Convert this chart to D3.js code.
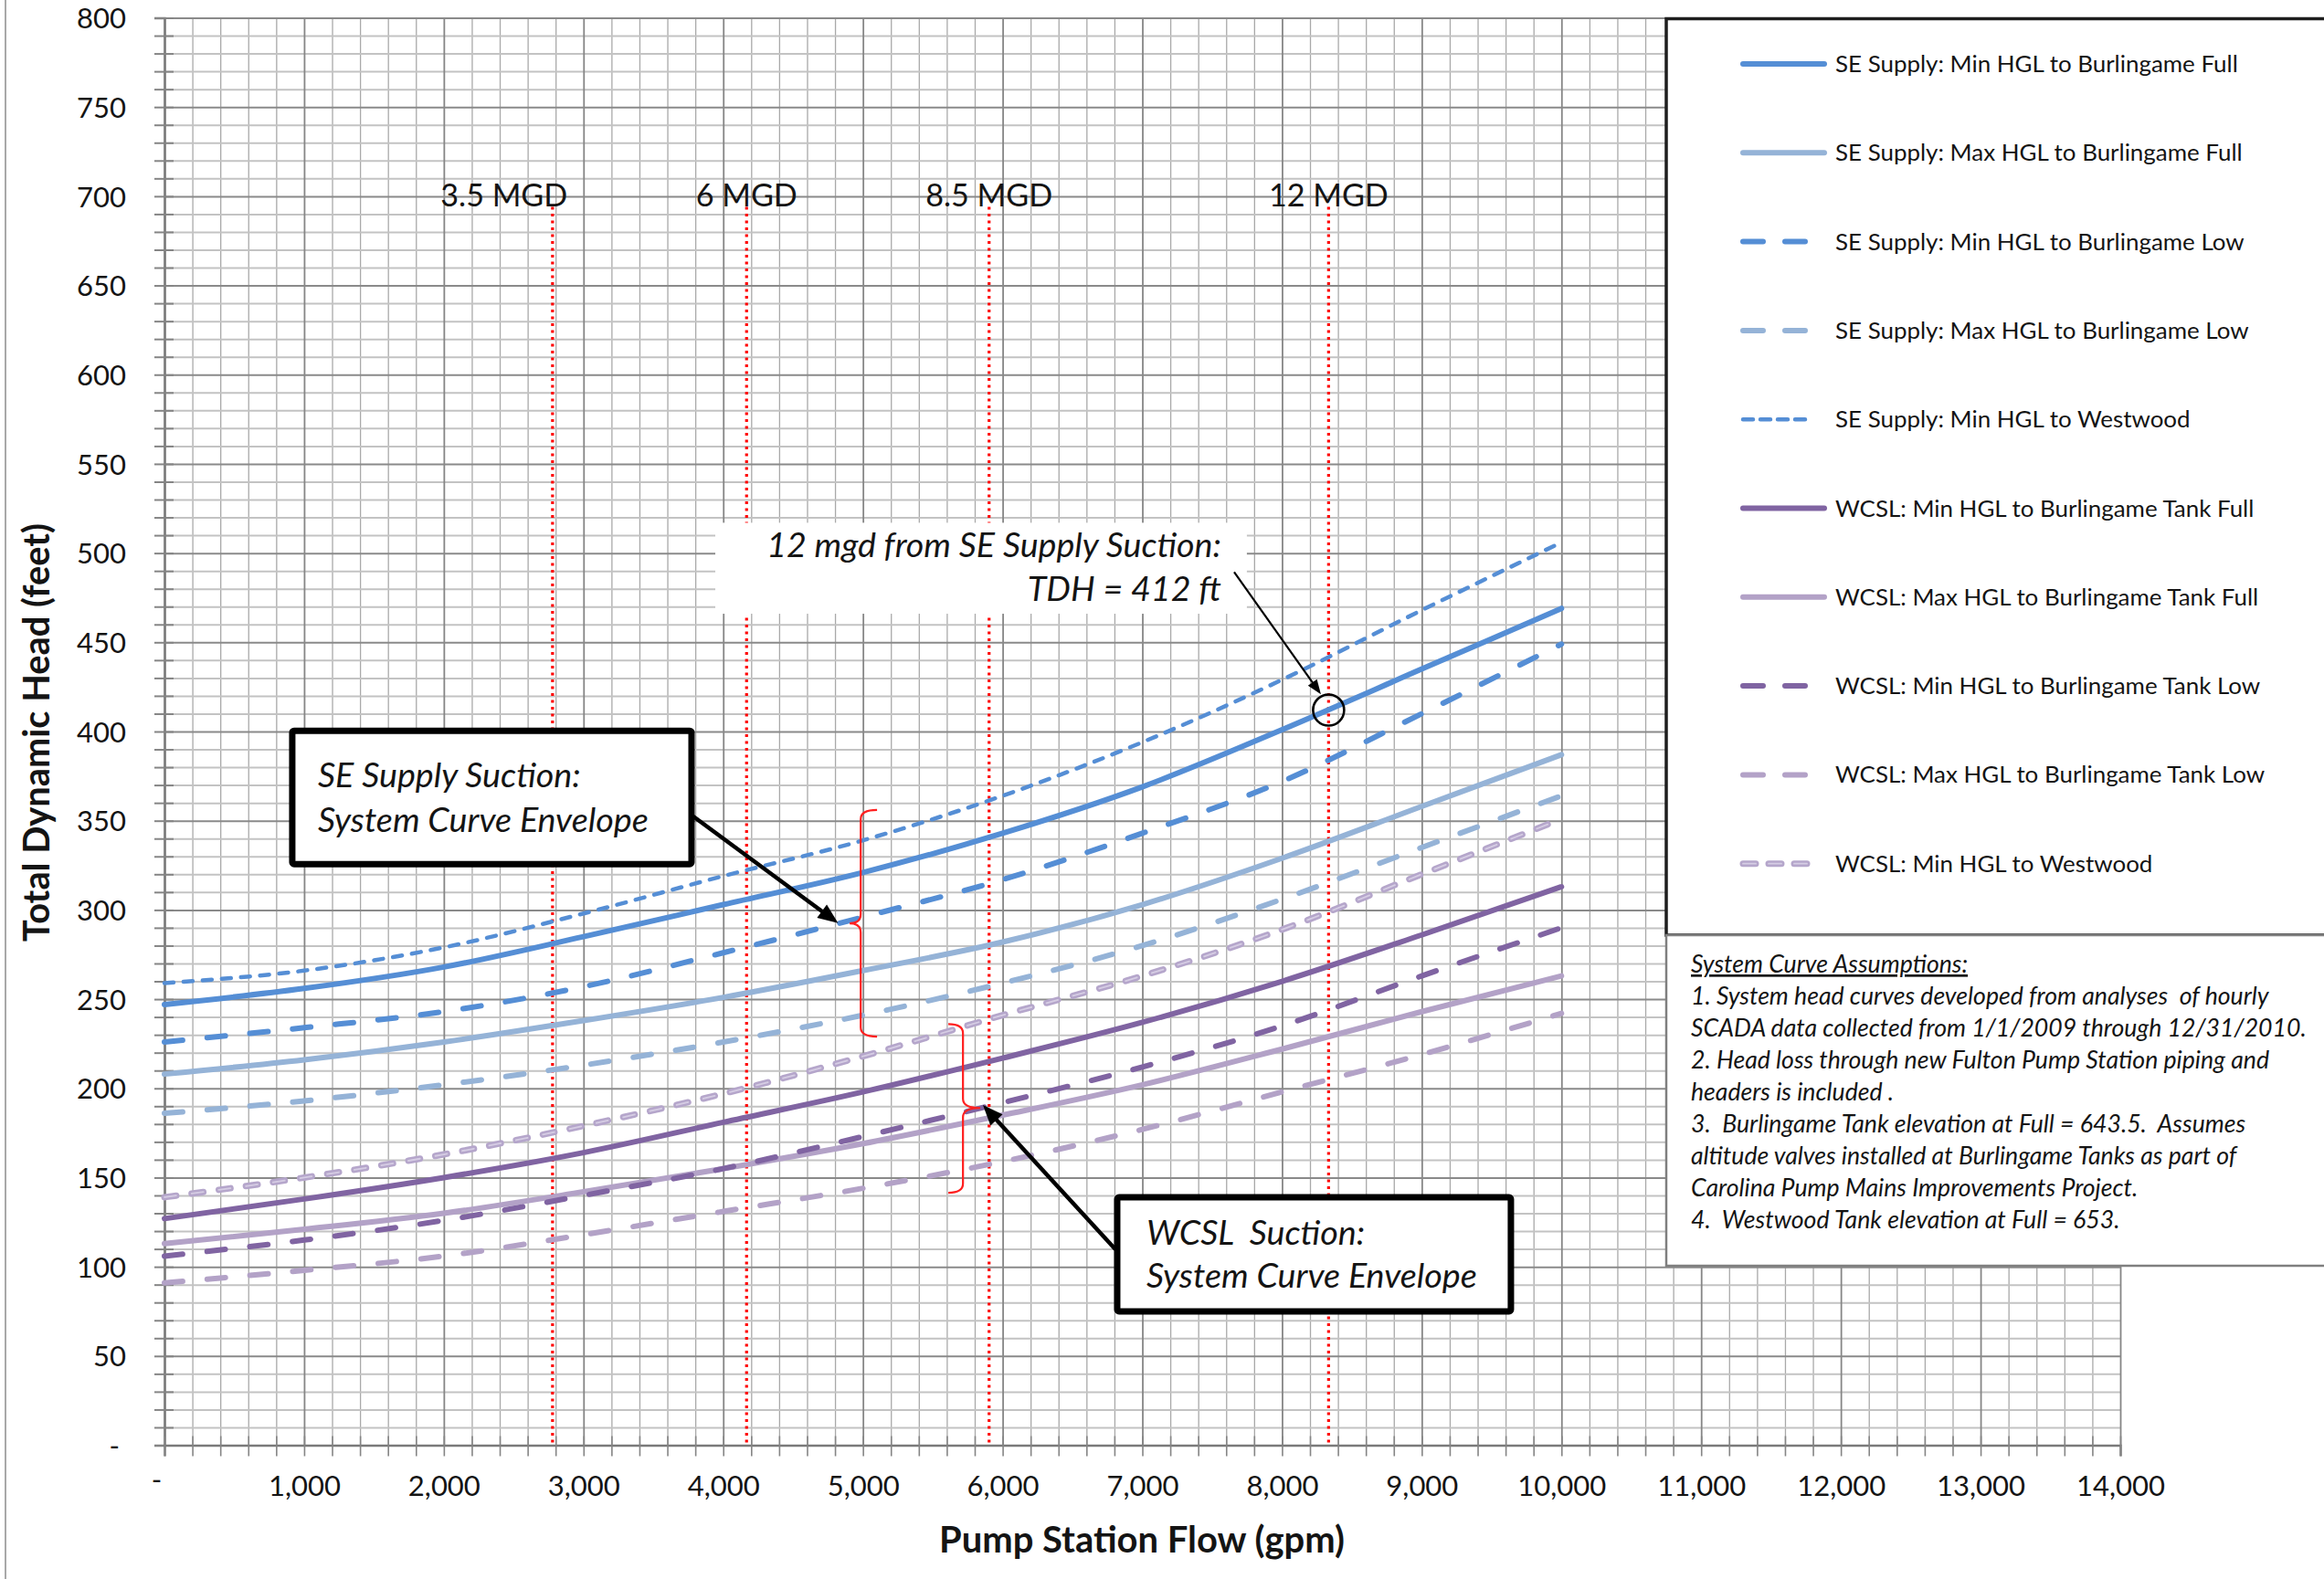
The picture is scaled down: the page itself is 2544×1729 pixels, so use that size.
<!DOCTYPE html>
<html>
<head>
<meta charset="utf-8">
<script src="https://cdn.jsdelivr.net/npm/d3@7/dist/d3.min.js"></script>
<style>
  html, body { margin: 0; padding: 0; background: #ffffff; }
  svg { display: block; }
  text { font-family: Lato, "Open Sans", "DejaVu Sans", sans-serif; fill: #141414; }
</style>
</head>
<body>
<svg id="chart" width="2544" height="1729"></svg>
<script>
// ---------------- DATA ----------------
const flowGpm = [0, 1000, 2000, 3000, 4000, 5000, 6000, 7000, 8000, 9000, 10000];

const seMinFull       = [247, 256, 268, 285, 303, 321, 343, 369, 401, 435, 469];
const seMaxFull       = [208, 216, 226, 238, 251, 266, 282, 303, 329, 358, 387];
const seMinLow        = [226, 234, 243, 257, 276, 296, 317, 343, 372, 410, 449];
const seMaxLow        = [186, 193, 202, 213, 226, 241, 259, 280, 306, 335, 364];
const seMinWestwood   = [259, 266, 279, 298, 319, 339, 364, 394, 429, 468, 506];
const wcslMinFull     = [127, 138, 150, 164, 181, 198, 217, 237, 260, 286, 313];
const wcslMaxFull     = [113, 121, 130, 142, 155, 169, 185, 202, 222, 243, 263];
const wcslMinLow      = [106, 115, 126, 140, 155, 173, 192, 212, 235, 263, 290];
const wcslMaxLow      = [91, 98, 106, 118, 131, 144, 159, 177, 198, 219, 242];
const wcslMinWestwood = [139, 150, 163, 179, 197, 218, 241, 263, 289, 320, 351];

const seriesNames = [
  "SE Supply: Min HGL to Burlingame Full",
  "SE Supply: Max HGL to Burlingame Full",
  "SE Supply: Min HGL to Burlingame Low",
  "SE Supply: Max HGL to Burlingame Low",
  "SE Supply: Min HGL to Westwood",
  "WCSL: Min HGL to Burlingame Tank Full",
  "WCSL: Max HGL to Burlingame Tank Full",
  "WCSL: Min HGL to Burlingame Tank Low",
  "WCSL: Max HGL to Burlingame Tank Low",
  "WCSL: Min HGL to Westwood"
];
const seriesValues = [seMinFull, seMaxFull, seMinLow, seMaxLow, seMinWestwood,
                      wcslMinFull, wcslMaxFull, wcslMinLow, wcslMaxLow, wcslMinWestwood];

const xTickValues = d3.range(0, 14001, 1000);
const yTickValues = d3.range(0, 801, 50);

const mgdLineFlow  = [2778, 4167, 5903, 8333];
const mgdLabelFlow = [2431, 4167, 5903, 8333];
const mgdLabels    = ["3.5 MGD", "6 MGD", "8.5 MGD", "12 MGD"];

const assumptionTitle = "System Curve Assumptions:";
const assumptionLines = [
  "1. System head curves developed from analyses  of hourly",
  "SCADA data collected from 1/1/2009 through 12/31/2010.",
  "2. Head loss through new Fulton Pump Station piping and",
  "headers is included .",
  "3.  Burlingame Tank elevation at Full = 643.5.  Assumes",
  "altitude valves installed at Burlingame Tanks as part of",
  "Carolina Pump Mains Improvements Project.",
  "4.  Westwood Tank elevation at Full = 653."
];

const xTitle = "Pump Station Flow (gpm)";
const yTitle = "Total Dynamic Head (feet)";
const tdhPoint = { flow: 8333, head: 412 };

// ---------------- STYLES ----------------
const BLUE = "#558ed5", LBLUE = "#95b3d7", PURP = "#8064a2", LPURP = "#b3a2c7";
const seriesStyles = [
  { color: BLUE,  w: 6,   dash: null },
  { color: LBLUE, w: 6,   dash: null },
  { color: BLUE,  w: 6,   dash: "20,27" },
  { color: LBLUE, w: 6,   dash: "20,27" },
  { color: BLUE,  w: 4.5, dash: "10,11" },
  { color: PURP,  w: 6,   dash: null },
  { color: LPURP, w: 6,   dash: null },
  { color: PURP,  w: 6,   dash: "20,27" },
  { color: LPURP, w: 6,   dash: "20,27" },
  { color: "#b5a6cb", w: 7, dash: "13,17", inner: "#d6cde4" }
];

// ---------------- LAYOUT ----------------
const W = 2544, H = 1729;
const L = 180, R = 2321, T = 19.5, B = 1582.5;
const svg = d3.select("#chart");
const x = d3.scaleLinear().domain([0, 14000]).range([L, R]);
const y = d3.scaleLinear().domain([0, 800]).range([B, T]);

function fitFont(sel, target) {
  const fs = parseFloat(sel.attr("font-size"));
  const w = sel.node().getComputedTextLength();
  const nfs = fs * target / w;
  sel.attr("font-size", nfs);
  return nfs;
}

svg.append("rect").attr("width", W).attr("height", H).attr("fill", "#fff");
svg.append("line").attr("x1", 6).attr("x2", 6).attr("y1", 0).attr("y2", H)
  .attr("stroke", "#a8a8a8").attr("stroke-width", 2);

// ---------------- GRID ----------------
const minorX = d3.range(0, 14001, 200).filter(v => v % 1000 !== 0);
const minorY = d3.range(0, 801, 10).filter(v => v % 50 !== 0);

svg.append("g").attr("transform", `translate(0,${B})`)
  .call(d3.axisBottom(x).tickValues(minorX).tickSize(-(B - T)).tickFormat(""))
  .call(g => { g.select(".domain").remove();
    g.selectAll("line").attr("stroke", "#a9a9a9").attr("stroke-width", 1.3); });
svg.append("g").attr("transform", `translate(${L},0)`)
  .call(d3.axisLeft(y).tickValues(minorY).tickSize(-(R - L)).tickFormat(""))
  .call(g => { g.select(".domain").remove();
    g.selectAll("line").attr("stroke", "#c3c3c3").attr("stroke-width", 2); });
svg.append("g").attr("transform", `translate(0,${B})`)
  .call(d3.axisBottom(x).tickValues(xTickValues).tickSize(-(B - T)).tickFormat(""))
  .call(g => { g.select(".domain").remove();
    g.selectAll("line").attr("stroke", "#868686").attr("stroke-width", 1.8); });
svg.append("g").attr("transform", `translate(${L},0)`)
  .call(d3.axisLeft(y).tickValues(yTickValues).tickSize(-(R - L)).tickFormat(""))
  .call(g => { g.select(".domain").remove();
    g.selectAll("line").attr("stroke", "#8a8a8a").attr("stroke-width", 2); });

// ---------------- AXES ----------------
svg.append("g").attr("transform", `translate(${L},0)`)
  .call(d3.axisLeft(y).tickValues(d3.range(0, 801, 10)).tickSize(11).tickFormat(""))
  .call(g => { g.select(".domain").attr("stroke", "#7a7a7a").attr("stroke-width", 2.5);
    g.selectAll("line").attr("x1", 10).attr("stroke", "#858585").attr("stroke-width", 2); });
svg.append("g").attr("transform", `translate(0,${B})`)
  .call(d3.axisBottom(x).tickValues(d3.range(0, 14001, 200)).tickSize(12).tickFormat(""))
  .call(g => { g.select(".domain").attr("stroke", "#7a7a7a").attr("stroke-width", 2.5);
    g.selectAll("line").attr("y1", -10).attr("stroke", "#858585").attr("stroke-width", 1.6); });

const fmtTick = d => d === 0 ? "-" : d3.format(",")(d);

const yLab = svg.append("g").attr("transform", `translate(${L},0)`)
  .call(d3.axisLeft(y).tickValues(yTickValues).tickSize(0).tickPadding(42).tickFormat(fmtTick));
yLab.select(".domain").remove();
yLab.attr("font-family", null).attr("font-size", null);
yLab.selectAll("text").attr("font-size", 30).attr("fill", "#141414");
{
  const t800 = yLab.selectAll("text").filter(d => d === 800);
  const fs = fitFont(t800, 54);
  yLab.selectAll("text").attr("font-size", fs).attr("dy", "0.36em");
  yLab.selectAll("text").filter(d => d === 0).attr("dx", -7);
}

const xLab = svg.append("g").attr("transform", `translate(0,${B})`)
  .call(d3.axisBottom(x).tickValues(xTickValues).tickSize(0).tickFormat(fmtTick));
xLab.select(".domain").remove();
xLab.attr("font-family", null).attr("font-size", null);
xLab.selectAll("text").attr("font-size", 30).attr("fill", "#141414").attr("y", 55.5).attr("dy", 0);
{
  const t1 = xLab.selectAll("text").filter(d => d === 1000);
  const fs = fitFont(t1, 79);
  xLab.selectAll("text").attr("font-size", fs);
  xLab.selectAll("text").filter(d => d === 0).attr("dx", -9).attr("y", 48);
}

// axis titles
{
  const tx = svg.append("text").attr("x", 1250).attr("y", 1700).attr("text-anchor", "middle")
    .attr("font-weight", "bold").attr("font-size", 34).text(xTitle);
  fitFont(tx, 444);
  const ty = svg.append("text").attr("transform", "translate(54,802) rotate(-90)")
    .attr("text-anchor", "middle").attr("font-weight", "bold").attr("font-size", 34).text(yTitle);
  fitFont(ty, 458);
}

// ---------------- MGD LINES ----------------
svg.append("g").selectAll("line").data(mgdLineFlow).join("line")
  .attr("x1", d => x(d)).attr("x2", d => x(d))
  .attr("y1", y(694)).attr("y2", B)
  .attr("stroke", "#ff0000").attr("stroke-width", 3.2).attr("stroke-dasharray", "3,4.5");

const mgdG = svg.append("g");
mgdG.selectAll("text").data(mgdLabels).join("text")
  .attr("x", (d, i) => x(mgdLabelFlow[i])).attr("y", y(700) + 11)
  .attr("text-anchor", "middle").attr("font-size", 31).text(d => d);
{
  const fs = fitFont(mgdG.select("text"), 139);
  mgdG.selectAll("text").attr("font-size", fs);
}

// ---------------- CURVES ----------------
const lineGen = d3.line()
  .x((d, i) => x(flowGpm[i]))
  .y(d => y(d))
  .curve(d3.curveMonotoneX);

const curveG = svg.append("g").attr("fill", "none");
seriesValues.forEach((vals, i) => {
  const st = seriesStyles[i];
  curveG.append("path").attr("d", lineGen(vals))
    .attr("stroke", st.color).attr("stroke-width", st.w)
    .attr("stroke-linecap", "round").attr("stroke-linejoin", "round")
    .attr("stroke-dasharray", st.dash);
  if (st.inner) {
    curveG.append("path").attr("d", lineGen(vals))
      .attr("stroke", st.inner).attr("stroke-width", 1.8)
      .attr("stroke-linecap", "round").attr("stroke-dasharray", st.dash);
  }
});

// ---------------- BRACKETS ----------------
function bracket(xv, xh, xm, yt, yb, ym) {
  const bx = x(xv), bh = x(xh), bm = x(xm), t = y(yt), b = y(yb), m = y(ym);
  const r = 10;
  return `M${bh},${t} Q${bx},${t} ${bx},${t + r} L${bx},${m - r} Q${bx},${m} ${bm},${m}` +
         ` Q${bx},${m} ${bx},${m + r} L${bx},${b - r} Q${bx},${b} ${bh},${b}`;
}
svg.append("path").attr("d", bracket(4984, 5101, 4905, 356, 229, 292.5))
  .attr("fill", "none").attr("stroke", "#ff2020").attr("stroke-width", 2.2);
svg.append("path").attr("d", bracket(5716, 5611, 5840, 236, 141.5, 189))
  .attr("fill", "none").attr("stroke", "#ff2020").attr("stroke-width", 2.2);

// ---------------- ARROWS ----------------
function arrow(f1, h1, f2, h2, w, headL, headW) {
  const x1 = x(f1), y1 = y(h1), x2 = x(f2), y2 = y(h2);
  const dx = x2 - x1, dy = y2 - y1, len = Math.hypot(dx, dy);
  const ux = dx / len, uy = dy / len;
  const bx = x2 - ux * headL, by = y2 - uy * headL;
  svg.append("line").attr("x1", x1).attr("y1", y1)
    .attr("x2", x2 - ux * headL * 0.7).attr("y2", y2 - uy * headL * 0.7)
    .attr("stroke", "#000").attr("stroke-width", w);
  svg.append("path")
    .attr("d", `M${x2},${y2} L${bx - uy * headW / 2},${by + ux * headW / 2} L${bx + uy * headW / 2},${by - ux * headW / 2} Z`)
    .attr("fill", "#000");
}

// 12 mgd annotation (white box)
svg.append("rect").attr("x", x(3943)).attr("y", y(517))
  .attr("width", x(7748) - x(3943)).attr("height", y(466) - y(517)).attr("fill", "#fff");
{
  const a1 = svg.append("text").attr("x", x(7565)).attr("y", y(497.6)).attr("text-anchor", "end")
    .attr("font-style", "italic").attr("font-size", 31).text("12 mgd from SE Supply Suction:");
  const fs = fitFont(a1, 498);
  svg.append("text").attr("x", x(7565)).attr("y", y(473)).attr("text-anchor", "end")
    .attr("font-style", "italic").attr("font-size", fs).text("TDH = 412 ft");
}
arrow(7657, 489.4, 8278, 420.8, 2.2, 16, 12);
svg.append("circle").attr("cx", x(tdhPoint.flow)).attr("cy", y(tdhPoint.head)).attr("r", 17)
  .attr("fill", "none").attr("stroke", "#000").attr("stroke-width", 2.6);

// callout boxes
function calloutBox(f1, f2, h1, h2, tx, l1, l2, b1, b2) {
  svg.append("rect").attr("x", x(f1)).attr("y", y(h1))
    .attr("width", x(f2) - x(f1)).attr("height", y(h2) - y(h1))
    .attr("fill", "#fff").attr("stroke", "#000").attr("stroke-width", 7).attr("rx", 2);
  const t2 = svg.append("text").attr("x", x(tx)).attr("y", y(b2)).attr("font-style", "italic")
    .attr("font-size", 32).style("white-space", "pre").text(l2);
  const fs = fitFont(t2, 362);
  svg.append("text").attr("x", x(tx)).attr("y", y(b1)).attr("font-style", "italic")
    .attr("font-size", fs).style("white-space", "pre").text(l1);
}
calloutBox(915, 3773, 400.4, 325.7, 1098, "SE Supply Suction:", "System Curve Envelope", 369, 343.6);
arrow(3779, 352.8, 4822, 292.6, 4.5, 22, 18);
calloutBox(6820, 9638, 138.9, 75, 7029, "WCSL  Suction:", "System Curve Envelope", 112.3, 88.3);
arrow(6807, 109.8, 5859, 190.6, 4.5, 22, 18);

// ---------------- LEGEND ----------------
svg.append("rect").attr("x", 1824).attr("y", 20.5).attr("width", 800).attr("height", 1003.5)
  .attr("fill", "#fff").attr("stroke", "#1e1e1e").attr("stroke-width", 3.5);
svg.append("rect").attr("x", 1824).attr("y", 1024).attr("width", 800).attr("height", 362)
  .attr("fill", "#fff").attr("stroke", "#7f7f7f").attr("stroke-width", 2.5);

const legG = svg.append("g");
let legFs = null;
seriesNames.forEach((name, i) => {
  const st = seriesStyles[i];
  const ry = 70 + i * 97.3;
  const x2 = st.dash ? (st.inner ? 1985 : 1980) : 1997;
  legG.append("line").attr("x1", 1908).attr("x2", x2).attr("y1", ry).attr("y2", ry)
    .attr("stroke", st.color).attr("stroke-width", st.w).attr("stroke-linecap", "round")
    .attr("stroke-dasharray", st.dash ? (st.inner ? "14,14" : (st.w < 5 ? "11,8" : "22,24")) : null);
  if (st.inner) {
    legG.append("line").attr("x1", 1908).attr("x2", x2).attr("y1", ry).attr("y2", ry)
      .attr("stroke", st.inner).attr("stroke-width", 1.8).attr("stroke-linecap", "round")
      .attr("stroke-dasharray", "14,14");
  }
  const t = legG.append("text").attr("x", 2009).attr("y", ry).attr("dy", "0.35em")
    .attr("font-size", legFs || 25).text(name);
  if (i === 0) legFs = fitFont(t, 441);
});

// assumptions
{
  const title = svg.append("text").attr("x", 1851).attr("y", 1065).attr("font-style", "italic")
    .attr("font-size", 25).style("text-decoration", "underline").text(assumptionTitle);
  const ag = svg.append("g");
  ag.selectAll("text").data(assumptionLines).join("text")
    .attr("x", 1851).attr("y", (d, i) => 1100 + i * 35)
    .attr("font-style", "italic").attr("font-size", 25).style("white-space", "pre").text(d => d);
  const fs = fitFont(ag.selectAll("text").filter((d, i) => i === 1), 674);
  ag.selectAll("text").attr("font-size", fs);
  title.attr("font-size", fs);
}
</script>
</body>
</html>
